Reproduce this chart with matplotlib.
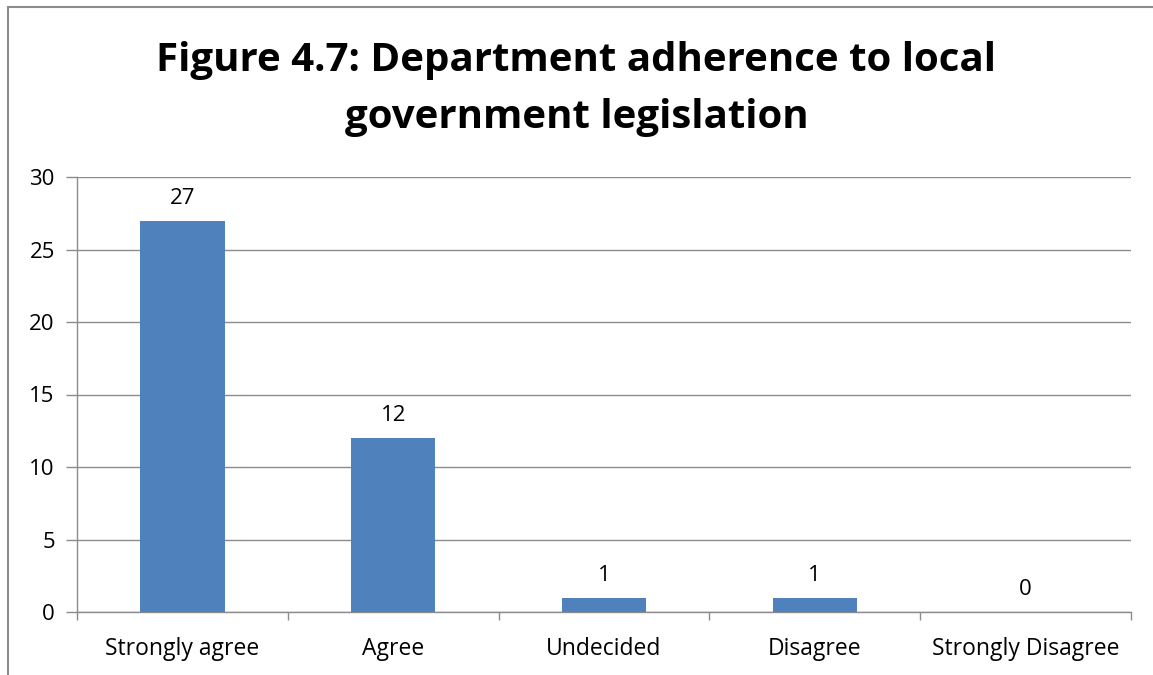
import matplotlib.pyplot as plt
from matplotlib.patches import Rectangle

categories = ['Strongly agree', 'Agree', 'Undecided', 'Disagree', 'Strongly Disagree']
counts = [27, 12, 1, 1, 0]
yticks = [0, 5, 10, 15, 20, 25, 30]

plt.rcParams['font.family'] = ['Open Sans', 'DejaVu Sans']

fig = plt.figure(figsize=(11.53, 6.75), dpi=100)
W, H = 1153, 675

# chart border (cropped at right and bottom)
fig.patches.append(Rectangle((8 / W, -0.1), 1.2, 1 - 7 / H + 0.1, transform=fig.transFigure,
                             fill=False, edgecolor='#8c8c8c', linewidth=1.5))

ax = fig.add_axes([77 / W, 1 - 612 / H, (1131 - 77) / W, (612 - 177) / H])

x = list(range(len(categories)))
ax.bar(x, counts, width=0.4, color='#4F81BD', zorder=3)
for xi, v in zip(x, counts):
    ax.text(xi, v + 0.8, str(v), ha='center', va='bottom', fontsize=16)

ax.set_xlim(-0.5, len(categories) - 0.5)
ax.set_ylim(0, 30)
ax.set_yticks(yticks)
ax.set_yticklabels([str(t) for t in yticks], fontsize=16)
ax.grid(axis='y', color='#8c8c8c', linewidth=1, zorder=0)

ax.set_xticks(x)
ax.set_xticklabels(categories, fontsize=16.5)
ax.tick_params(axis='x', length=0, pad=18)
ax.set_xticks([i - 0.5 for i in range(len(categories) + 1)], minor=True)
ax.tick_params(axis='x', which='minor', length=6, color='#8c8c8c', width=1)
ax.tick_params(axis='y', length=8, color='#8c8c8c', width=1, pad=8)

for s in ['top', 'right']:
    ax.spines[s].set_visible(False)
for s in ['left', 'bottom']:
    ax.spines[s].set_color('#8c8c8c')
    ax.spines[s].set_linewidth(1)

fig.text(0.5, 1 - 89 / H, 'Figure 4.7: Department adherence to local\ngovernment legislation',
         ha='center', va='center', fontsize=29, fontweight='bold', linespacing=1.6)

fig.savefig('out.png', dpi=100)
